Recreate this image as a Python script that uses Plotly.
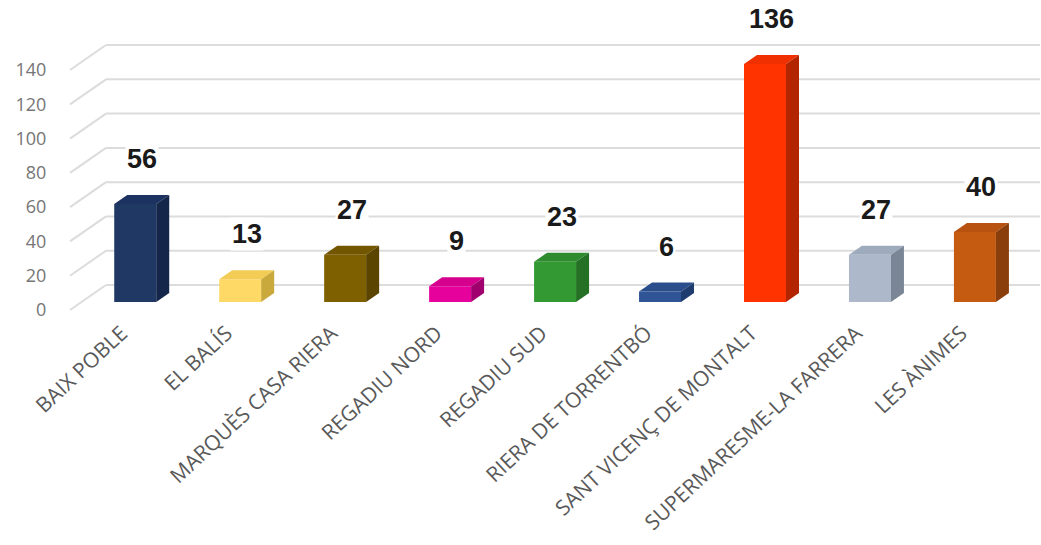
import plotly.graph_objects as go

categories = ["BAIX POBLE", "EL BALÍS", "MARQUÈS CASA RIERA", "REGADIU NORD", "REGADIU SUD",
              "RIERA DE TORRENTBÓ", "SANT VICENÇ DE MONTALT", "SUPERMARESME-LA FARRERA", "LES ÀNIMES"]
values = [56, 13, 27, 9, 23, 6, 136, 27, 40]
front_colors = ["#203864", "#ffd966", "#7f6000", "#e6009c", "#339933", "#2f5597", "#ff3300", "#adb9ca", "#c55a11"]
top_colors = ["#1c3260", "#f2cc55", "#735600", "#d6008f", "#2e8c2e", "#2a4d8c", "#f03000", "#9eabbd", "#b85210"]
side_colors = ["#14264a", "#c9a93c", "#5a4400", "#a0006e", "#247024", "#1f3c6e", "#b32400", "#7a8596", "#8a3e0b"]
y_ticks = [0, 20, 40, 60, 80, 100, 120, 140]

# geometry (pixel-derived constants)
W, H = 1041, 545
ml, mr, mt, mb = 67, 1, 10, 229
xr = [-0.65, 8.62]
pxu_x = (W - ml - mr) / (xr[1] - xr[0])
k_bar = 1.75          # px per unit for bars
base_px = 302         # pixel row of bar base
k_front = 1.714       # px per unit for axis scale
zero_front = 310
plot_top, plot_bot = mt, H - mb
yr_bar = [(base_px - plot_bot) / k_bar, (base_px - plot_top) / k_bar]
yr_front = [(zero_front - plot_bot) / k_front, (zero_front - plot_top) / k_front]

bw = 0.4
dx = 13 / pxu_x
dy = 9 / k_bar
back_off = 25 / k_front

fig = go.Figure()

def px_to_x(p):
    return xr[0] + (p - ml) / pxu_x

# back-wall gridlines
for t in y_ticks:
    fig.add_shape(type="line", xref="x", yref="y2", x0=px_to_x(70), y0=t, x1=px_to_x(106), y1=t + back_off,
                  line=dict(color="#dcdcdc", width=2), layer="below")
    fig.add_shape(type="line", xref="x", yref="y2", x0=px_to_x(106), y0=t + back_off, x1=xr[1], y1=t + back_off,
                  line=dict(color="#dcdcdc", width=2), layer="below")

xs = list(range(len(categories)))
fig.add_trace(go.Bar(x=xs, y=values, width=bw, marker=dict(color=front_colors, line=dict(width=0)),
                     hoverinfo="skip", showlegend=False))

for i, v in enumerate(values):
    l, r = i - bw / 2, i + bw / 2
    fig.add_trace(go.Scatter(x=[l, r, r + dx, l + dx, l], y=[v, v, v + dy, v + dy, v], fill="toself",
                             fillcolor=top_colors[i], line=dict(width=0), mode="lines",
                             hoverinfo="skip", showlegend=False))
    fig.add_trace(go.Scatter(x=[r, r + dx, r + dx, r, r], y=[0, dy, v + dy, v, 0], fill="toself",
                             fillcolor=side_colors[i], line=dict(width=0), mode="lines",
                             hoverinfo="skip", showlegend=False))
    fig.add_annotation(x=i + dx / 2, y=v + dy, xref="x", yref="y", text=str(v), showarrow=False,
                       yanchor="bottom", yshift=19, bgcolor="white",
                       font=dict(family="Liberation Sans", size=27, color="#1a1a1a", weight="bold"))

# invisible trace to activate y2
fig.add_trace(go.Scatter(x=[None], y=[None], yaxis="y2", showlegend=False, hoverinfo="skip"))

fig.update_layout(
    width=W, height=H, margin=dict(l=ml, r=mr, t=mt, b=mb),
    paper_bgcolor="white", plot_bgcolor="white", showlegend=False,
    xaxis=dict(range=xr, tickmode="array", tickvals=[x - 0.13 for x in xs], ticktext=categories, tickangle=-43,
               showgrid=False, zeroline=False, showline=False, ticks="", automargin=False,
               tickfont=dict(family="Open Sans", size=21, color="#595959")),
    yaxis=dict(range=yr_bar, showgrid=False, zeroline=False, showticklabels=False, showline=False),
    yaxis2=dict(range=yr_front, overlaying="y", side="left", tickmode="array", tickvals=y_ticks,
                showgrid=False, zeroline=False, showline=False, ticks="outside", ticklen=16, automargin=False,
                tickcolor="rgba(0,0,0,0)", tickfont=dict(family="Open Sans", size=18, color="#767676")),
)

fig.write_html("out.html", config={"displayModeBar": False},
               post_script="document.body.style.margin='0';")
